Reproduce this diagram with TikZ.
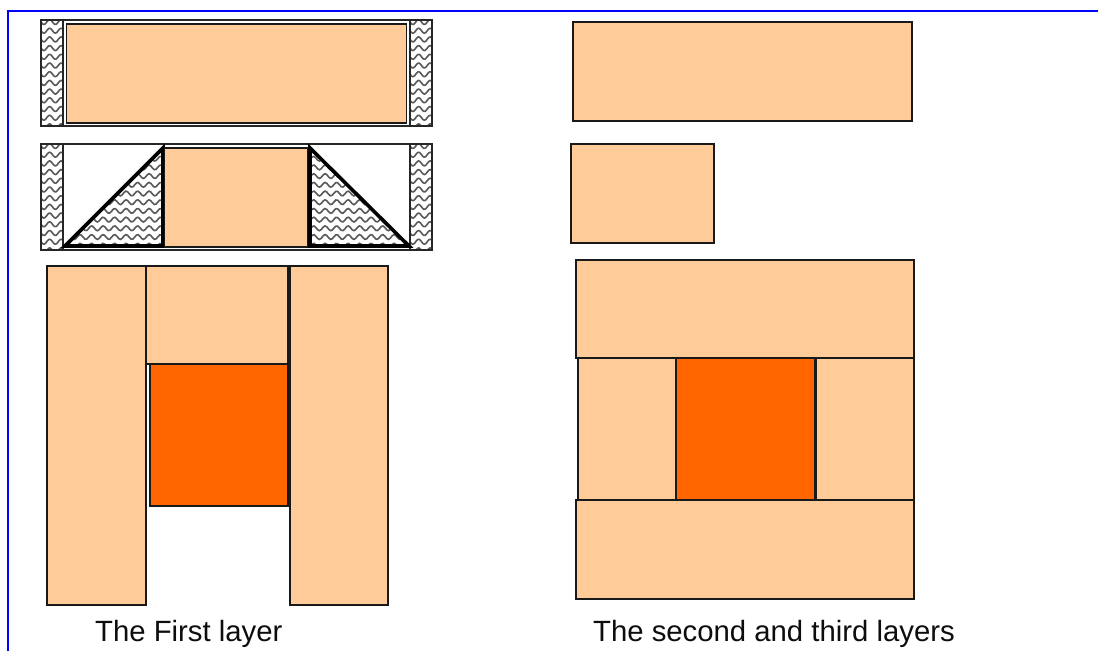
\documentclass[tikz,border=0pt]{standalone}
\usepackage{fontspec}
\setmainfont{Liberation Sans}
\definecolor{peach}{HTML}{FFCC99}
\definecolor{deep}{HTML}{FF6600}
\definecolor{frameblue}{HTML}{0000FF}
\newcommand{\wavelines}[5]{% x0, x1, y0, y1, phase
  \pgfmathsetmacro{\yend}{#4}
  \pgfmathsetmacro{\ynext}{#3+8.7}
  \foreach \yy in {#3,\ynext,...,\yend}{
    \draw[wave] plot[domain=#1:#2,samples=60,smooth] (\x,{\yy+2.4*sin((\x-#5)*31.3)});
  }
}
\tikzset{
  x=1pt,y=-1pt,
  wave/.style={line width=1.6pt,draw=black!65},
  thin box/.style={draw=black!85,line width=1.3pt},
  peachbox/.style={draw=black!90,fill=peach,line width=1.25pt},
  deepbox/.style={draw=black!90,fill=deep,line width=1.25pt},
  thick tri/.style={draw=black,line width=3.6pt,line join=miter},
  caption/.style={font=\fontsize{29.3}{32}\selectfont,anchor=base west,inner sep=0pt,text=black!95}
}
\begin{document}
\begin{tikzpicture}
\useasboundingbox (0,0) rectangle (1098,651);
\fill[white] (0,0) rectangle (1098,651);
% frame
\draw[frameblue,line width=2pt] (8,651) -- (8,10.5) -- (1098,10.5);
% hatched strips
\begin{scope}\clip (41,20) rectangle (63,126); \wavelines{41}{63}{22}{128}{41}\end{scope}
\begin{scope}\clip (410,20) rectangle (432,126); \wavelines{410}{432}{22}{128}{410}\end{scope}
\begin{scope}\clip (41,144) rectangle (63,250); \wavelines{41}{63}{146}{252}{41}\end{scope}
\begin{scope}\clip (410,144) rectangle (432,250); \wavelines{410}{432}{146}{252}{410}\end{scope}
\draw[thin box] (41,20) rectangle (63,126);
\draw[thin box] (410,20) rectangle (432,126);
\draw[thin box] (63,20) rectangle (410,126);
\draw[peachbox,line width=1.8pt] (66.5,24) rectangle (406.5,123);
% second row
\draw[thin box] (41,144) rectangle (63,250);
\draw[thin box] (410,144) rectangle (432,250);
\draw[thin box] (63,144) rectangle (410,250);
\begin{scope}\clip (65,246) -- (163,148) -- (163,246) -- cycle; \wavelines{60}{165}{150}{250}{60}\end{scope}
\begin{scope}\clip (310,148) -- (310,246) -- (409,246) -- cycle; \wavelines{305}{412}{150}{250}{305}\end{scope}
\draw[thick tri] (65,246) -- (163,148) -- (163,246) -- cycle;
\draw[thick tri] (310,148) -- (310,246) -- (409,246) -- cycle;
\draw[peachbox] (164.5,148) rectangle (307.5,247);
% first layer bottom
\draw[peachbox] (47,266) rectangle (146,605);
\draw[peachbox] (146,266) rectangle (288,364);
\draw[deepbox] (150,364) rectangle (288,506);
\draw[peachbox] (290,266) rectangle (388,605);
% second/third layers
\draw[peachbox] (573,22) rectangle (912,121);
\draw[peachbox] (571,144) rectangle (714,243);
\draw[peachbox] (576,260) rectangle (914,358);
\draw[peachbox] (578,358) rectangle (676,500);
\draw[deepbox] (676,358) rectangle (815,500);
\draw[peachbox] (816,358) rectangle (914,500);
\draw[peachbox] (576,500) rectangle (914,599);
\node[caption] (cap1) at (95,641) {The First layer};
\node[caption] (cap2) at (593,641) {The second and third layers};
\end{tikzpicture}
\end{document}
